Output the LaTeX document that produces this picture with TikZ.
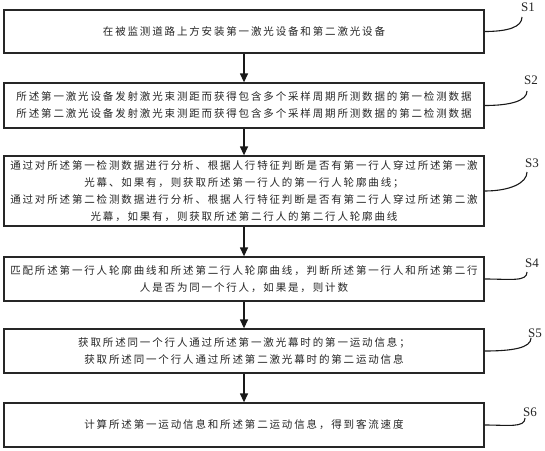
\documentclass[tikz,border=0pt]{standalone}
\usepackage{fontspec}
\setmainfont{Liberation Serif}
\newfontfamily\cjk[LetterSpace=17.6]{Noto Sans CJK SC}
\usetikzlibrary{arrows.meta}
\begin{document}
\begin{tikzpicture}[x=1pt,y=-1pt,
  box/.style={draw=black!85, line width=1.3pt, minimum width=480pt, inner sep=0pt,
    align=center, font=\cjk\fontsize{10.5}{17}\selectfont, text=black!85},
  arr/.style={draw=black!90, line width=1.3pt, -{Triangle[length=9pt,width=8pt]}},
  lead/.style={draw=black!90, line width=1.1pt},
  lab/.style={font=\fontsize{13}{13}\selectfont, inner sep=0pt, text=black!85}]
\fill[white] (0,0) rectangle (545,450);
\useasboundingbox (0,0) rectangle (545,450);

\node[box, minimum height=43pt] (b1) at (244,31.5) {在被监测道路上方安装第一激光设备和第二激光设备};
\node[box, minimum height=45pt] (b2) at (244,105.5) {所述第一激光设备发射激光束测距而获得包含多个采样周期所测数据的第一检测数据\\所述第二激光设备发射激光束测距而获得包含多个采样周期所测数据的第二检测数据};
\node[box, minimum height=70pt] (b3) at (244,191) {通过对所述第一检测数据进行分析、根据人行特征判断是否有第一行人穿过所述第一激\\光幕、如果有，则获取所述第一行人的第一行人轮廓曲线；\\通过对所述第二检测数据进行分析、根据人行特征判断是否有第二行人穿过所述第二激\\光幕，如果有，则获取所述第二行人的第二行人轮廓曲线};
\node[box, minimum height=44pt] (b4) at (244,279) {匹配所述第一行人轮廓曲线和所述第二行人轮廓曲线，判断所述第一行人和所述第二行\\人是否为同一个行人，如果是，则计数};
\node[box, minimum height=44pt] (b5) at (244,351) {获取所述同一个行人通过所述第一激光幕时的第一运动信息；\\获取所述同一个行人通过所述第二激光幕时的第二运动信息};
\node[box, minimum height=44pt] (b6) at (244,425) {计算所述第一运动信息和所述第二运动信息，得到客流速度};

\draw[arr] (b1.south) -- (b2.north);
\draw[arr] (b2.south) -- (b3.north);
\draw[arr] (b3.south) -- (b4.north);
\draw[arr] (b4.south) -- (b5.north);
\draw[arr] (b5.south) -- (b6.north);

\node[lab] (s1) at (528,7) {S1};
\node[lab] (s2) at (531,80) {S2};
\node[lab] (s3) at (532,163) {S3};
\node[lab] (s4) at (532,263) {S4};
\node[lab] (s5) at (535,333) {S5};
\node[lab] (s6) at (530,412) {S6};

\coordinate (e1) at (522,17);
\coordinate (e2) at (527,91);
\coordinate (e3) at (527,172);
\coordinate (e4) at (527,272);
\coordinate (e5) at (531,338);
\coordinate (e6) at (525,418);

\draw[lead] (b1.east) .. controls (508,31.5) and (522,27) .. (e1);
\draw[lead] (b2.east) .. controls (510,105.5) and (527,101) .. (e2);
\draw[lead] (b3.east) .. controls (510,191) and (527,183) .. (e3);
\draw[lead] (b4.east) .. controls (510,279) and (527,282) .. (e4);
\draw[lead] (b5.east) .. controls (512,351) and (531,348) .. (e5);
\draw[lead] (b6.east) .. controls (508,425) and (525,428) .. (e6);
\end{tikzpicture}
\end{document}
